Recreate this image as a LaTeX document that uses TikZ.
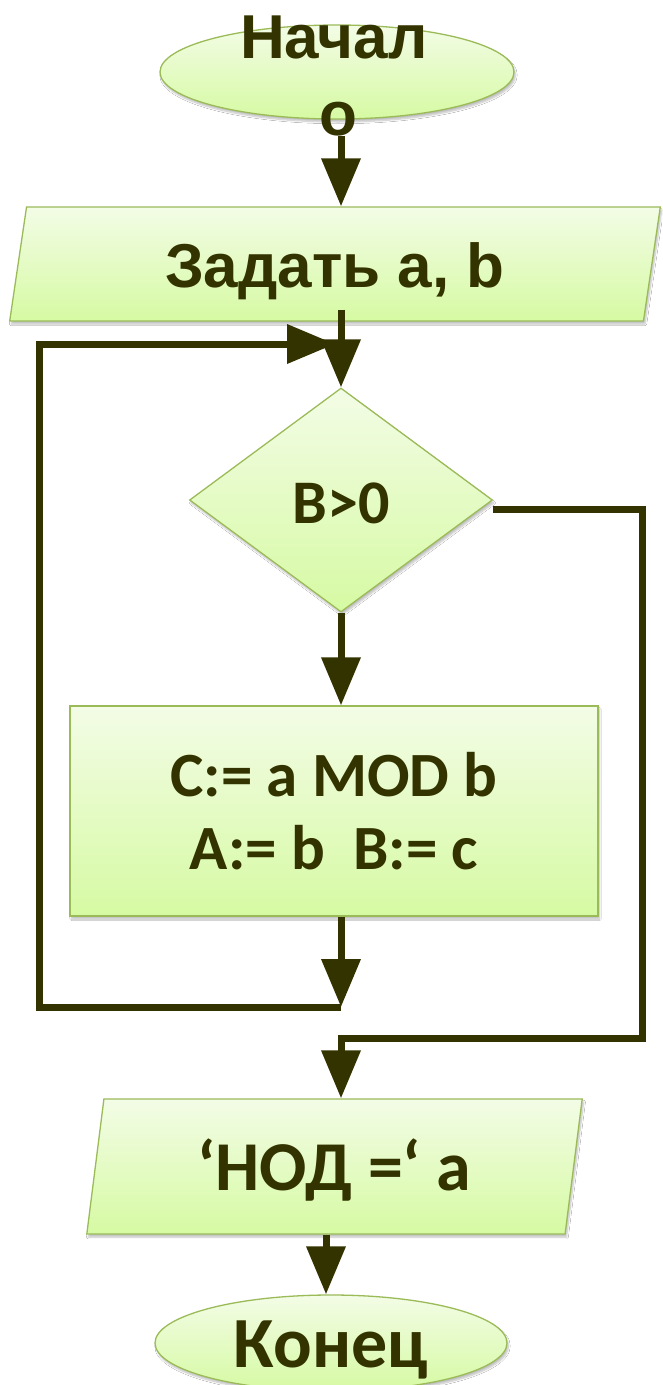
\documentclass[tikz,border=0pt]{standalone}
\usepackage{fontspec}
\newfontfamily\libsans{Liberation Sans}
\newfontfamily\carl{Carlito}
\usetikzlibrary{shapes.geometric,arrows.meta,shadows.blur}
\definecolor{ink}{RGB}{51,51,0}
\definecolor{edgec}{RGB}{155,187,89}
\definecolor{filltop}{RGB}{243,252,230}
\definecolor{fillbot}{RGB}{214,250,163}
\begin{document}
\begin{tikzpicture}[x=1pt,y=-1pt,
  blk/.style={draw=edgec, line width=1.3pt, top color=filltop, bottom color=fillbot,
    blur shadow={shadow blur steps=6, shadow xshift=1.5pt, shadow yshift=-3pt, shadow opacity=25},
    text=ink, inner sep=0pt},
  conn/.style={draw=ink, line width=7pt, line join=miter},
  tipd/.style={-{Triangle[length=48pt,width=38pt]}},
  fa/.style={font=\libsans\bfseries\fontsize{62}{74}\selectfont},
  fc/.style={font=\carl\bfseries\fontsize{#1}{#1}\selectfont},
  lbl/.style={text=ink, inner sep=0pt}]
\useasboundingbox (0,0) rectangle (662,1385);
\fill[white] (0,0) rectangle (662,1385);
% shapes
\node[blk, ellipse, minimum width=354pt, minimum height=94pt] (start) at (337,72) {};
\node[blk, trapezium, trapezium left angle=78.6, trapezium right angle=101.4, trapezium stretches=true,
  minimum width=654pt, minimum height=114pt, fa, text height=46pt, text depth=0pt] (input) at (335,264) {Задать a, b};
\node[blk, diamond, aspect=1.35, minimum width=303pt, minimum height=224pt, fc=62,
  text height=46pt, text depth=0pt] (dec) at (341,500) {B>0};
\node[blk, rectangle, minimum width=528pt, minimum height=210pt, align=center,
  font=\carl\bfseries\fontsize{63}{73}\selectfont] (proc) at (334,811) {C:= a MOD b\\A:= b\ \ B:= c};
\node[blk, trapezium, trapezium left angle=77.8, trapezium right angle=102.2, trapezium stretches=true,
  minimum width=497pt, minimum height=135pt, fc=70, text height=47pt, text depth=0pt] (out) at (334.5,1166.5) {‘НОД =‘ a};
\node[blk, ellipse, minimum width=352pt, minimum height=96pt, fc=72, text height=48pt, text depth=0pt] (end) at (331,1343) {Конец};
% start label
\node[lbl, fa, anchor=base] (startA) at (334,58) {Начал};
\node[lbl, fa, anchor=base] (startB) at (338,135) {о};
% coordinates
\coordinate (inbot) at ([yshift=12pt]input.south);
\coordinate (lpB) at (341,1007);
\coordinate (lpBL) at (39,1007);
\coordinate (lpTL) at (39,344);
\coordinate (lpT) at (335,344);
\coordinate (rA0) at ([yshift=-9pt]dec.east);
\coordinate (rA) at (642,509);
\coordinate (rB) at (642,1038);
\coordinate (rC) at (341,1038);
\coordinate (colE) at (326,0);
% connectors
\draw[conn, tipd] (startB.south -| dec.north) -- (input.north -| dec.north);
\draw[conn, tipd] (inbot -| dec.north) -- (dec.north);
\draw[conn, tipd] (dec.south) -- (proc.north -| dec.south);
\draw[conn, tipd] (proc.south -| dec.south) -- (lpB);
\draw[conn, tipd] (lpB) -- (lpBL) -- (lpTL) -- (lpT);
\draw[conn, tipd] (rA0) -- (rA) -- (rB) -- (rC) -- (out.north -| rC);
\draw[conn, tipd] (out.south -| colE) -- (end.north -| colE);
\end{tikzpicture}
\end{document}
